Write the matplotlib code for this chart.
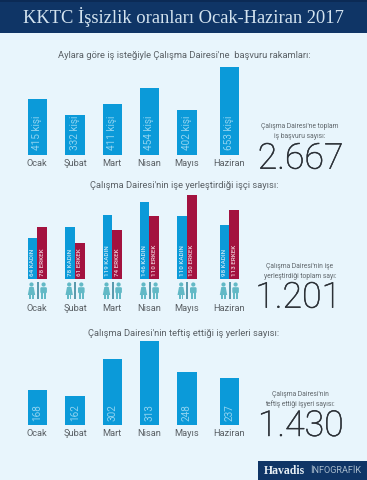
import matplotlib
matplotlib.use("Agg")
import matplotlib.pyplot as plt
import matplotlib.patheffects as pe
from matplotlib.patches import Rectangle, Circle, FancyBboxPatch

# ---- data ----
months = ["Ocak", "Şubat", "Mart", "Nisan", "Mayıs", "Haziran"]
applications = [415, 332, 411, 454, 402, 653]
applications_bar_h = [55.3, 39.3, 51, 66.3, 44.3, 87.3]
women = [64, 78, 119, 146, 110, 98]
men = [78, 61, 74, 110, 150, 113]
women_bar_h = [41, 52, 63.7, 77.3, 63, 54]
men_bar_h = [52, 36.3, 49, 63, 84, 68.7]
inspections = [168, 162, 302, 313, 248, 237]
inspections_bar_h = [35, 29, 66.3, 84, 52.7, 47.3]
title = "KKTC İşsizlik oranları Ocak-Haziran 2017"

# ---- layout (pixels) ----
W, H = 367, 480
centers = [37.3, 75, 112.3, 149.3, 187, 229.3]
BG, NAVY, BLUE, RED, TEAL, INK = "#e8f5fc", "#0f3566", "#0b9ad9", "#a3123f", "#62b9c6", "#5a6065"
FONT = "Roboto"
plt.rcParams["font.family"] = [FONT, "DejaVu Sans"]

fig = plt.figure(figsize=(W / 100, H / 100), dpi=100, facecolor=BG)
bg = fig.add_axes([0, 0, 1, 1])
bg.set_xlim(0, W); bg.set_ylim(H, 0); bg.axis("off")

def panel(base, height):
    ax = fig.add_axes([0, 1 - base / H, 1, height / H], facecolor="none")
    ax.set_xlim(0, W); ax.set_ylim(0, height); ax.axis("off")
    return ax

def txt(x, y, s, size, color=INK, **kw):
    kw.setdefault("ha", "center")
    return bg.text(x, y, s, fontsize=size, color=color, va="center", **kw)

# header / footer
bg.add_patch(Rectangle((0, 0), W, 33, color=NAVY, lw=0))
bg.add_patch(Rectangle((0, 0), W, 1.5, color="#0b2a55", lw=0))
txt(183, 17, title, 13.3, "#d3e3ef", family=["Liberation Serif", "DejaVu Serif"])
bg.add_patch(Rectangle((258, 461), 109, 19, color=NAVY, lw=0))
bg.text(264, 470.5, "Havadis", fontsize=8.5, color="#e6eef4", weight="bold", va="center",
        family=["Liberation Serif", "DejaVu Serif"])
bg.text(310, 470.5, "İNFOGRAFİK", fontsize=6.6, color="#a9bccd", va="center")

# section headings
txt(184, 55.7, "Aylara göre iş isteğiyle Çalışma Dairesi'ne  başvuru rakamları:", 6.75)
txt(184, 185.7, "Çalışma Dairesi'nin işe yerleştirdiği işçi sayısı:", 6.75)
txt(184, 334, "Çalışma Dairesi'nin teftiş ettiği iş yerleri sayısı:", 6.75)

# panel 1
ax = panel(154.5, 90)
ax.bar(centers, applications_bar_h, width=19.3, color=BLUE)
for x, v in zip(centers, applications):
    ax.text(x, 4, f"{v} kişi", rotation=90, ha="center", va="bottom", fontsize=7.2, color="#8fd3f0")

# panel 2
ax = panel(279, 90)
ax.bar([c - 4.85 for c in centers], women_bar_h, width=9.7, color=BLUE)
ax.bar([c + 4.85 for c in centers], men_bar_h, width=9.7, color=RED)
for c, w, m in zip(centers, women, men):
    ax.text(c - 4.85, 3, f"{w} KADIN", rotation=90, ha="center", va="bottom", fontsize=4.5,
            color="#cfeaf7", weight="medium")
    ax.text(c + 4.85, 3, f"{m} ERKEK", rotation=90, ha="center", va="bottom", fontsize=4.5,
            color="#f1d3dc", weight="medium")

# people icons
def person(x, female):
    bg.add_patch(Circle((x, 284.5), 2.1, color=TEAL, lw=0))
    if female:
        bg.fill([x - 2.2, x + 2.2, x + 3.7, x - 3.7], [287, 287, 295, 295], color=TEAL, lw=0)
        bg.add_patch(Rectangle((x - 2.2, 295), 1.8, 3.5, color=TEAL, lw=0))
        bg.add_patch(Rectangle((x + 0.4, 295), 1.8, 3.5, color=TEAL, lw=0))
    else:
        bg.add_patch(FancyBboxPatch((x - 3.3, 287.2), 6.6, 6, boxstyle="round,pad=0,rounding_size=1.2",
                                    color=TEAL, lw=0))
        bg.add_patch(Rectangle((x - 2.2, 292), 2, 6.5, color=TEAL, lw=0))
        bg.add_patch(Rectangle((x + 0.2, 292), 2, 6.5, color=TEAL, lw=0))

for c in centers:
    person(c - 5.8, True)
    person(c + 6.3, False)
    bg.plot([c + 0.3, c + 0.3], [282, 299], color="#2f7f95", lw=1.1, solid_capstyle="butt")

# panel 3
ax = panel(425, 90)
ax.bar(centers, inspections_bar_h, width=19.3, color=BLUE)
for x, v in zip(centers, inspections):
    ax.text(x, 4, str(v), rotation=90, ha="center", va="bottom", fontsize=7.2, color="#8fd3f0")

# month labels
for base in (163.4, 308.7, 434):
    for c, m in zip(centers, months):
        txt(c, base, m, 6.7)

# totals
NOTE, BIG = "#5f666b", "#2b3036"
def big(x, y, s):
    t = txt(x, y, s, 25.7, BIG, weight="light")
    t.set_path_effects([pe.withStroke(linewidth=0.35, foreground=BIG)])

txt(300, 127, "Çalışma Dairesi'ne toplam", 4.9, NOTE)
txt(300, 136, "iş başvuru sayısı:", 4.9, NOTE)
big(300.5, 158.7, "2.667")
txt(300, 266, "Çalışma Dairesi'nin işe", 4.9, NOTE)
txt(300, 276.3, "yerleştirdiği toplam sayı:", 4.9, NOTE)
big(298, 297.7, "1.201")
txt(300, 394.7, "Çalışma Dairesi'nin", 4.9, NOTE)
txt(300, 404.3, "teftiş ettiği işyeri sayısı:", 4.9, NOTE)
big(300.5, 426, "1.430")

fig.savefig("out.png", dpi=100, facecolor=BG)
